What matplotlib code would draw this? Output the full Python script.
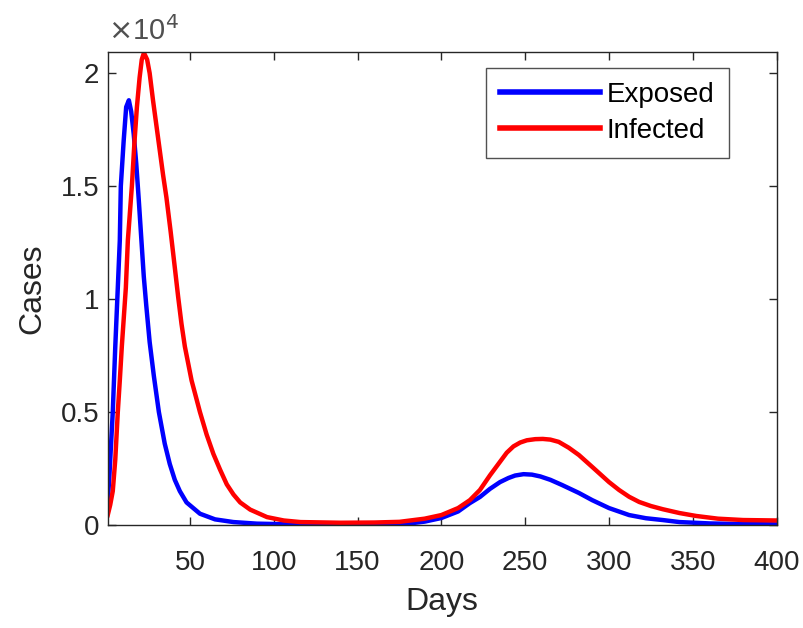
import matplotlib
matplotlib.use('Agg')
import matplotlib.pyplot as plt
from matplotlib.ticker import FuncFormatter

plt.rcParams['font.family'] = ['Liberation Sans', 'DejaVu Sans']

# values, in cases
exp_days = [1, 2, 4, 5.5, 7, 8.2, 8.8, 10.5, 12, 13.6, 15, 16.5, 18, 19.5, 21, 22.5, 24, 26,
            28.5, 31.5, 35, 38, 41, 44, 48, 52, 56, 65, 76, 90, 110, 140, 165, 180, 190,
            200, 210, 217, 223, 229, 235, 240, 244, 249, 254, 259, 265, 272, 282, 290, 300,
            312, 322, 332, 342, 360, 380, 400]
exposed = [1000, 2200, 5000, 7900, 10500, 12600, 15000, 17000, 18500, 18800, 18300, 17300,
           16000, 14400, 12700, 11000, 9700, 8100, 6600, 5000, 3600, 2700, 2000, 1500,
           1000, 750, 500, 250, 130, 60, 30, 20, 30, 60, 150, 310, 600, 970, 1240, 1600,
           1900, 2080, 2190, 2250, 2230, 2150, 2000, 1770, 1420, 1100, 750, 440, 300, 220,
           130, 70, 40, 30]

inf_days = [1, 2.5, 4, 5.5, 7, 8.2, 9.4, 10.6, 11.8, 13, 14.2, 15.4, 16.9, 18.4, 20, 21.3,
            22.6, 24.5, 26, 28, 30, 32, 34, 36, 38.5, 41, 43, 45, 47, 51, 56, 60, 64, 68,
            72, 76, 80, 86, 96, 106, 116, 140, 160, 175, 190, 200, 210, 217, 223, 229, 235,
            239, 243, 247, 251, 256, 260.5, 265, 270, 276, 282, 290, 300, 306, 312, 318,
            325, 332, 342, 352, 365, 380, 400]
infected = [440, 900, 1500, 2900, 5000, 6400, 7900, 9200, 10500, 12600, 13800, 15000, 16900,
            18500, 19800, 20600, 20900, 20600, 20000, 18800, 17700, 16600, 15500, 14500,
            13000, 11400, 10100, 8900, 7900, 6400, 5000, 4000, 3150, 2450, 1800, 1350,
            1000, 680, 350, 200, 130, 100, 110, 140, 280, 440, 750, 1100, 1550, 2200, 2800,
            3200, 3480, 3650, 3750, 3800, 3810, 3780, 3680, 3420, 3100, 2570, 1900, 1550,
            1250, 1020, 840, 700, 530, 400, 280, 220, 200]

fig = plt.figure(figsize=(8.04, 6.28), dpi=100)
ax = fig.add_axes([0.134, 0.164, 0.832, 0.753])

ax.plot(exp_days, exposed, color='#0000ff', linewidth=3.2, label='Exposed')
ax.plot(inf_days, infected, color='#ff0000', linewidth=3.2, label='Infected')

ax.set_xlim(1, 400)
ax.set_ylim(0, 20930)
ax.set_xticks([50, 100, 150, 200, 250, 300, 350, 400])
ax.set_yticks([0, 5000, 10000, 15000, 20000])
ax.yaxis.set_major_formatter(FuncFormatter(lambda v, p: f'{v/1e4:g}'))
ax.text(0.0, 1.012, r'$\times$10$^{4}$', transform=ax.transAxes, fontsize=21,
        color='#505050', ha='left', va='bottom')

txt = '#262626'
ax.tick_params(direction='in', length=6, width=1, labelsize=20, colors=txt,
               top=True, right=True)
ax.tick_params(axis='x', pad=18)
ax.tick_params(axis='y', pad=6)
for s in ax.spines.values():
    s.set_color(txt)
    s.set_linewidth(1)

ax.set_xlabel('Days', fontsize=23, color=txt, labelpad=8)
ax.set_ylabel('Cases', fontsize=23, color=txt, labelpad=10)

leg = ax.legend(loc='upper right', bbox_to_anchor=(0.928, 0.966), borderaxespad=0,
                fontsize=20, fancybox=False, handlelength=3.6, handletextpad=0.25,
                labelspacing=0.35, borderpad=0.5, edgecolor=txt)
leg.get_frame().set_linewidth(1)
for line in leg.get_lines():
    line.set_linewidth(4)

plt.savefig('out.png', dpi=100)
